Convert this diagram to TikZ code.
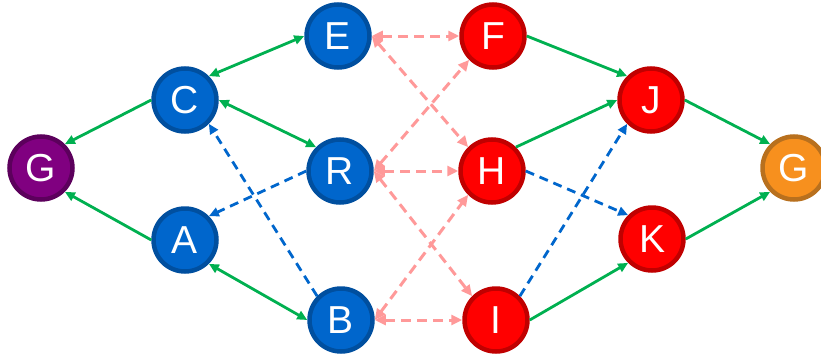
\documentclass[tikz,border=0pt]{standalone}
\usepackage{fontspec}
\setmainfont{Liberation Sans}
\usetikzlibrary{arrows.meta}
\definecolor{NodeBlue}{HTML}{0066CC}
\definecolor{NodeBlueDark}{HTML}{004F9F}
\definecolor{NodeRed}{HTML}{FF0000}
\definecolor{NodeRedDark}{HTML}{C00000}
\definecolor{NodePurple}{HTML}{800080}
\definecolor{NodePurpleDark}{HTML}{5C005C}
\definecolor{NodeOrange}{HTML}{F7901E}
\definecolor{NodeOrangeDark}{HTML}{B8701E}
\definecolor{EdgeGreen}{HTML}{00B050}
\definecolor{EdgeBlue}{HTML}{0066CC}
\definecolor{EdgePink}{HTML}{FF9999}
\tikzset{
  basenode/.style={circle,line width=4.5pt,minimum size=63pt,inner sep=0pt,text=white,font=\fontsize{39}{39}\selectfont},
  bluenode/.style={basenode,draw=NodeBlueDark,fill=NodeBlue},
  rednode/.style={basenode,draw=NodeRedDark,fill=NodeRed},
  purplenode/.style={basenode,draw=NodePurpleDark,fill=NodePurple},
  orangenode/.style={basenode,draw=NodeOrangeDark,fill=NodeOrange},
  greenarrow/.style={-{Triangle[length=10pt,width=9pt]},line width=2.8pt,draw=EdgeGreen},
  greenboth/.style={{Triangle[length=10pt,width=9pt]}-{Triangle[length=10pt,width=9pt]},line width=2.8pt,draw=EdgeGreen},
  bluedash/.style={-{Triangle[length=10pt,width=9pt]},line width=2.8pt,draw=EdgeBlue,dash pattern=on 9pt off 6pt},
  pinkboth/.style={{Triangle[length=11pt,width=10pt]}-{Triangle[length=11pt,width=10pt]},line width=3pt,draw=EdgePink,dash pattern=on 10pt off 6pt}
}
\begin{document}
\begin{tikzpicture}[x=1pt,y=-1pt]
\useasboundingbox (0,0) rectangle (821,356);
% nodes
\node[purplenode] (gl) at (41,168) {G};
\node[bluenode] (c) at (185,100) {C};
\node[bluenode] (a) at (185,240) {A};
\node[bluenode] (e) at (338,36) {E};
\node[bluenode] (r) at (340,171) {R};
\node[bluenode] (b) at (341,320) {B};
\node[rednode] (f) at (493,36) {F};
\node[rednode] (h) at (492,171) {H};
\node[rednode] (i) at (496,320) {I};
\node[rednode] (j) at (651,100) {J};
\node[rednode] (k) at (652,239) {K};
\node[orangenode] (gr) at (794,168) {G};
% pink links
\draw[pinkboth] (e.east) -- (f.west);
\draw[pinkboth] (e.east) -- (h.north west);
\draw[pinkboth] (r.east) -- (f.south west);
\draw[pinkboth] (r.east) -- (h.west);
\draw[pinkboth] (r.east) -- (i.north west);
\draw[pinkboth] (b.east) -- (h.south west);
\draw[pinkboth] (b.east) -- (i.west);
% blue links
\draw[bluedash] (b.north west) -- (c.south east);
\draw[bluedash] (r.west) -- (a.north east);
\draw[bluedash] (h.east) -- (k.north west);
\draw[bluedash] (i.north east) -- (j.south west);
% green links
\draw[greenarrow] (c.west) -- (gl.north east);
\draw[greenarrow] (a.west) -- (gl.south east);
\draw[greenboth] (c.north east) -- (e.west);
\draw[greenboth] (c.east) -- (r.north west);
\draw[greenboth] (a.south east) -- (b.west);
\draw[greenarrow] (f.east) -- (j.north west);
\draw[greenarrow] (h.north east) -- (j.west);
\draw[greenarrow] (i.east) -- (k.south west);
\draw[greenarrow] (j.east) -- (gr.north west);
\draw[greenarrow] (k.east) -- (gr.south west);
\end{tikzpicture}
\end{document}
